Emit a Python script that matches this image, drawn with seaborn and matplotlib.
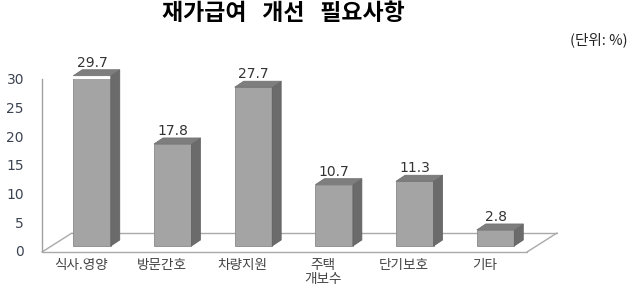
import matplotlib
matplotlib.use("Agg")
import matplotlib.pyplot as plt
import matplotlib.transforms as mtrans
from matplotlib.patches import Polygon
from matplotlib.lines import Line2D
import seaborn as sns
import pandas as pd

# ---- data ----
categories = ["식사.영양", "방문간호", "차량지원", "주택\n개보수", "단기보호", "기타"]
values = [29.7, 17.8, 27.7, 10.7, 11.3, 2.8]
value_labels = ["29.7", "17.8", "27.7", "10.7", "11.3", "2.8"]
yticks = [0, 5, 10, 15, 20, 25, 30]
title = "재가급여   개선   필요사항"
unit_note = "(단위: %)"

sns.set_theme(style="white")
plt.rcParams["font.family"] = ["Noto Sans CJK KR", "DejaVu Sans"]

W, H, DPI = 632, 293, 100
fig = plt.figure(figsize=(W / DPI, H / DPI), dpi=DPI)
# axes: left spine at x=42px, zero at y=251px, 30 at y=79px, right edge 527px
ax = fig.add_axes([42 / W, (H - 251) / H, (527 - 42) / W, (251 - 79) / H])

df = pd.DataFrame({"cat": categories, "val": values})
FRONT, SIDE, TOP, EDGE = "#a4a4a4", "#6b6b6b", "#7e7e7e", "#8a8a8a"
sns.barplot(data=df, x="cat", y="val", color=FRONT, saturation=1, width=0.465,
            edgecolor=EDGE, linewidth=0.6, ax=ax, zorder=3)

ax.set_xlim(-0.62, 5.39)
ax.set_ylim(0, 30)

px = 1.0 / DPI  # one pixel in inches
lift = mtrans.ScaledTranslation(0, 5 * px, fig.dpi_scale_trans)
# depth of the 3D bars (in data units): ~9px right, ~6px up
ddx = 9 / 80.7
ddy = 6 / 5.733

for p in ax.patches:
    p.set_transform(ax.transData + lift)
    x0 = p.get_x()
    x1 = x0 + p.get_width()
    h = p.get_height()
    side = Polygon([(x1, 0), (x1, h), (x1 + ddx, h + ddy), (x1 + ddx, ddy)],
                   closed=True, facecolor=SIDE, edgecolor="#5e5e5e", linewidth=0.5,
                   transform=ax.transData + lift, zorder=3, clip_on=False)
    top = Polygon([(x0, h), (x1, h), (x1 + ddx, h + ddy), (x0 + ddx, h + ddy)],
                  closed=True, facecolor=TOP, edgecolor="#6e6e6e", linewidth=0.5,
                  transform=ax.transData + lift, zorder=3, clip_on=False)
    ax.add_patch(side)
    ax.add_patch(top)

# value labels
for p, lab in zip(ax.patches[:len(values)], value_labels):
    cx = p.get_x() + p.get_width() / 2
    ax.annotate(lab, (cx, p.get_height()), xytext=(0, 18), textcoords="offset pixels",
                ha="center", va="center", fontsize=10, color="#333333",
                family=["DejaVu Sans"], zorder=5, annotation_clip=False)

# floor parallelogram
FLOOR = "#a9a9a9"
back = mtrans.ScaledTranslation(30 * px, 18 * px, fig.dpi_scale_trans)
front_t = ax.transAxes + mtrans.ScaledTranslation(0, -1 * px, fig.dpi_scale_trans)
back_t = ax.transAxes + back
for (xa, ta), (xb, tb) in [((0, front_t), (1, front_t)),
                           ((0, back_t), (1, back_t)),
                           ((0, front_t), (0, back_t)),
                           ((1, front_t), (1, back_t))]:
    pa = ta.transform((xa, 0))
    pb = tb.transform((xb, 0))
    ax.add_line(Line2D([pa[0], pb[0]], [pa[1], pb[1]], transform=None,
                       color=FLOOR, linewidth=1.0, zorder=1, clip_on=False))

# spines / ticks
for s in ["top", "right", "bottom"]:
    ax.spines[s].set_visible(False)
ax.spines["left"].set_color("#a0a0a0")
ax.spines["left"].set_linewidth(1.0)
ax.set_yticks(yticks)
ax.set_yticklabels([str(v) for v in yticks], family=["DejaVu Sans"])
ax.tick_params(axis="y", length=0, pad=13, labelsize=10, labelcolor="#3c4452")
ax.tick_params(axis="x", length=0, pad=5, labelsize=9.8, labelcolor="#444444")
shift = mtrans.ScaledTranslation(-11 * px, 0, fig.dpi_scale_trans)
for lab in ax.get_xticklabels():
    lab.set_transform(lab.get_transform() + shift)
    lab.set_linespacing(1.05)
ax.set_xlabel("")
ax.set_ylabel("")

fig.text(283 / W, 1 - 14 / H, title, ha="center", va="center",
         fontsize=16.5, fontweight=900, color="black")
fig.text(628 / W, 1 - 40 / H, unit_note, ha="right", va="center",
         fontsize=10.5, color="#222222")

fig.savefig("out.png", dpi=DPI, facecolor="white")
